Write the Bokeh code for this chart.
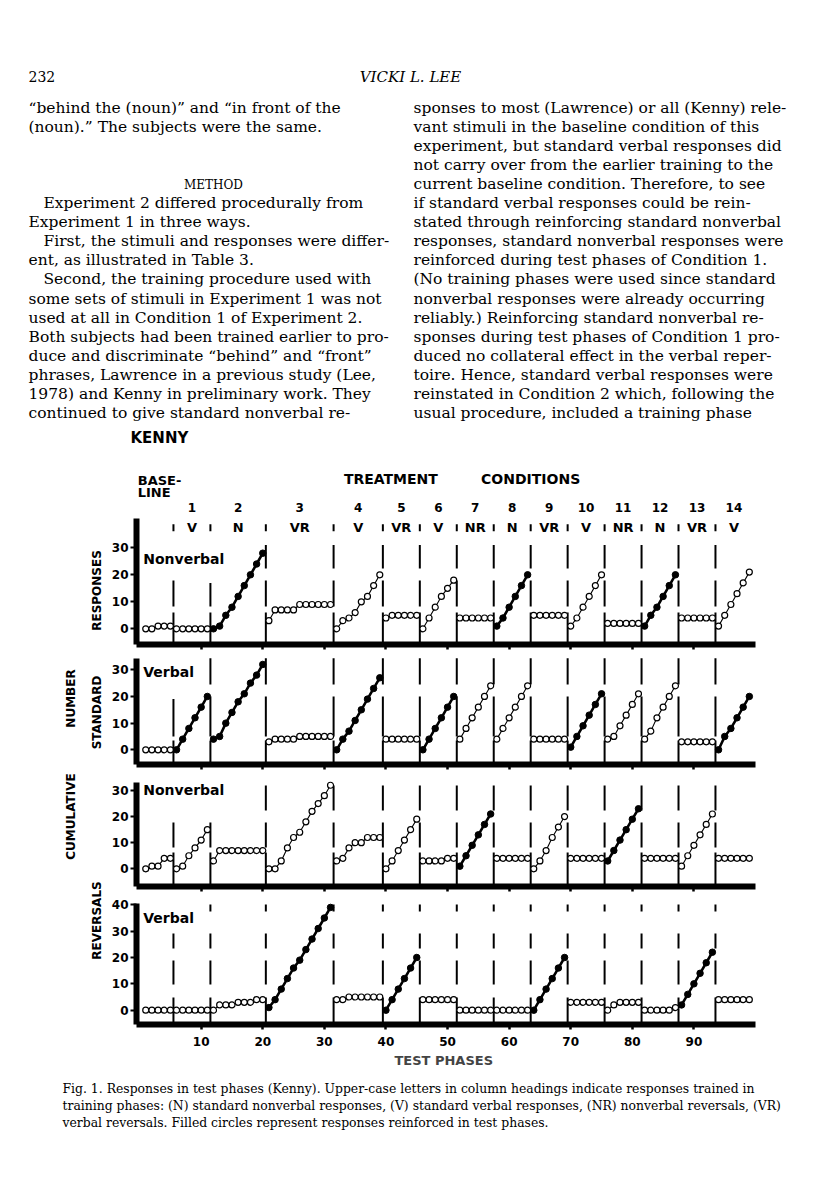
import numpy as np
from bokeh.plotting import figure
from bokeh.models import Range1d, ColumnDataSource, FixedTicker
from bokeh.layouts import column, row
from bokeh.embed import file_html
from bokeh.resources import INLINE
from bokeh.core.properties import value

# ---------------- data ----------------
# number of test phases in the baseline and in treatment conditions 1-14
phase_counts = [5, 6, 9, 11, 8, 6, 6, 6, 6, 6, 6, 6, 6, 6, 6]
condition_numbers = ["1", "2", "3", "4", "5", "6", "7", "8", "9", "10", "11", "12", "13", "14"]
trained_responses = ["V", "N", "VR", "V", "VR", "V", "NR", "N", "VR", "V", "NR", "N", "VR", "V"]
x_ticks = [10, 20, 30, 40, 50, 60, 70, 80, 90]
y_ticks_30 = [0, 10, 20, 30]
y_ticks_40 = [0, 10, 20, 30, 40]

nonverbal_standard = [
    0, 0, 1, 1, 1,
    0, 0, 0, 0, 0, 0,
    0, 1, 5, 8, 12, 16, 20, 24, 28,
    3, 7, 7, 7, 7, 9, 9, 9, 9, 9, 9,
    0, 3, 4, 6, 10, 12, 16, 20,
    4, 5, 5, 5, 5, 5,
    0, 4, 8, 12, 15, 18,
    4, 4, 4, 4, 4, 4,
    1, 4, 8, 12, 16, 20,
    5, 5, 5, 5, 5, 5,
    1, 4, 8, 12, 16, 20,
    2, 2, 2, 2, 2, 2,
    1, 5, 8, 12, 16, 20,
    4, 4, 4, 4, 4, 4,
    1, 5, 9, 13, 17, 21,
]
verbal_standard = [
    0, 0, 0, 0, 0,
    0, 4, 8, 12, 16, 20,
    4, 5, 10, 14, 18, 21, 25, 28, 32,
    3, 4, 4, 4, 4, 5, 5, 5, 5, 5, 5,
    0, 4, 7, 11, 15, 19, 23, 27,
    4, 4, 4, 4, 4, 4,
    0, 4, 8, 12, 16, 20,
    4, 8, 12, 16, 20, 24,
    4, 8, 12, 16, 20, 24,
    4, 4, 4, 4, 4, 4,
    1, 5, 9, 13, 17, 21,
    4, 5, 9, 13, 17, 21,
    4, 7, 12, 16, 20, 24,
    3, 3, 3, 3, 3, 3,
    0, 5, 8, 12, 16, 20,
]
nonverbal_reversals = [
    0, 1, 1, 4, 4,
    0, 1, 5, 8, 11, 15,
    3, 7, 7, 7, 7, 7, 7, 7, 7,
    0, 0, 3, 8, 12, 14, 18, 22, 25, 28, 32,
    3, 4, 8, 10, 10, 12, 12, 12,
    0, 3, 7, 11, 15, 19,
    3, 3, 3, 3, 4, 4,
    1, 5, 9, 13, 17, 21,
    4, 4, 4, 4, 4, 4,
    0, 3, 7, 12, 16, 20,
    4, 4, 4, 4, 4, 4,
    3, 7, 11, 15, 19, 23,
    4, 4, 4, 4, 4, 4,
    1, 5, 9, 13, 17, 21,
    4, 4, 4, 4, 4, 4,
]
verbal_reversals = [
    0, 0, 0, 0, 0,
    0, 0, 0, 0, 0, 0,
    0, 2, 2, 2, 3, 3, 3, 4, 4,
    1, 4, 8, 12, 16, 19, 23, 27, 31, 35, 39,
    4, 4, 5, 5, 5, 5, 5, 5,
    0, 4, 8, 12, 16, 20,
    4, 4, 4, 4, 4, 4,
    0, 0, 0, 0, 0, 0,
    0, 0, 0, 0, 0, 0,
    0, 4, 8, 12, 16, 20,
    3, 3, 3, 3, 3, 3,
    0, 2, 3, 3, 3, 3,
    0, 0, 0, 0, 0, 1,
    2, 6, 10, 14, 18, 22,
    4, 4, 4, 4, 4, 4,
]
# conditions (0 = baseline) in which the responses were reinforced (filled circles)
reinforced_nonverbal_standard = [2, 8, 12]
reinforced_verbal_standard = [1, 2, 4, 6, 10, 14]
reinforced_nonverbal_reversals = [7, 11]
reinforced_verbal_reversals = [3, 5, 9, 13]

# ---------------- page text ----------------
left_lines_a = [
    "\u201cbehind the (noun)\u201d and \u201cin front of the",
    "(noun).\u201d The subjects were the same.",
]
left_lines_b = [
    "Experiment 2 differed procedurally from",
    "Experiment 1 in three ways.",
    "First, the stimuli and responses were differ-",
    "ent, as illustrated in Table 3.",
    "Second, the training procedure used with",
    "some sets of stimuli in Experiment 1 was not",
    "used at all in Condition 1 of Experiment 2.",
    "Both subjects had been trained earlier to pro-",
    "duce and discriminate \u201cbehind\u201d and \u201cfront\u201d",
    "phrases, Lawrence in a previous study (Lee,",
    "1978) and Kenny in preliminary work. They",
    "continued to give standard nonverbal re-",
]
left_b_indent = [1, 0, 1, 0, 1, 0, 0, 0, 0, 0, 0, 0]
right_lines = [
    "sponses to most (Lawrence) or all (Kenny) rele-",
    "vant stimuli in the baseline condition of this",
    "experiment, but standard verbal responses did",
    "not carry over from the earlier training to the",
    "current baseline condition. Therefore, to see",
    "if standard verbal responses could be rein-",
    "stated through reinforcing standard nonverbal",
    "responses, standard nonverbal responses were",
    "reinforced during test phases of Condition 1.",
    "(No training phases were used since standard",
    "nonverbal responses were already occurring",
    "reliably.) Reinforcing standard nonverbal re-",
    "sponses during test phases of Condition 1 pro-",
    "duced no collateral effect in the verbal reper-",
    "toire. Hence, standard verbal responses were",
    "reinstated in Condition 2 which, following the",
    "usual procedure, included a training phase",
]
caption_lines = [
    "Fig. 1. Responses in test phases (Kenny). Upper-case letters in column headings indicate responses trained in",
    "training phases: (N) standard nonverbal responses, (V) standard verbal responses, (NR) nonverbal reversals, (VR)",
    "verbal reversals. Filled circles represent responses reinforced in test phases.",
]

# ---------------- derived ----------------
phases = np.arange(1, sum(phase_counts) + 1)
cond_of_phase = np.repeat(np.arange(len(phase_counts)), phase_counts)
last_phase = np.cumsum(phase_counts)
bounds = last_phase[:-1] + 0.5
cond_starts = bounds
cond_ends = np.r_[bounds[1:], last_phase[-1] + 0.5]
cond_centers = (cond_starts + cond_ends) / 2

SANS = value("DejaVu Sans")
SERIF = value("DejaVu Serif")


def page_fig(width, height, x0, x1, y_bottom, y_top):
    f = figure(width=width, height=height, x_range=Range1d(x0, x1), y_range=Range1d(y_bottom, y_top),
               output_backend="svg", toolbar_location=None, x_axis_location=None, y_axis_location=None,
               min_border=0)
    f.outline_line_color = None
    f.grid.visible = False
    return f


def make_panel(vals, filled, y0, y1, height, axis_top, yticks, tops, dash, name, name_y, bottom_border, last=False):
    p = figure(width=700, height=height, x_range=Range1d(-0.5, 100), y_range=Range1d(y0, y1),
               output_backend="svg", toolbar_location=None,
               min_border_left=28, min_border_right=53, min_border_top=0, min_border_bottom=bottom_border)
    p.outline_line_color = None
    p.grid.visible = False
    ya = p.yaxis[0]
    ya.ticker = FixedTicker(ticks=yticks)
    ya.bounds = (y0, axis_top)
    ya.axis_line_width = 6
    ya.major_tick_out = 6
    ya.major_tick_in = 0
    ya.major_tick_line_width = 2
    ya.minor_tick_line_color = None
    ya.major_label_text_font = "DejaVu Sans"
    ya.major_label_text_font_style = "bold"
    ya.major_label_text_font_size = "12px"
    ya.major_label_text_color = "black"
    ya.major_label_standoff = 2
    xa = p.xaxis[0]
    xa.ticker = FixedTicker(ticks=x_ticks)
    xa.axis_line_width = 6
    xa.major_tick_out = 5
    xa.major_tick_in = 0
    xa.major_tick_line_width = 2.5
    xa.minor_tick_line_color = None
    if last:
        xa.major_label_text_font = "DejaVu Sans"
        xa.major_label_text_font_style = "bold"
        xa.major_label_text_font_size = "12px"
        xa.major_label_text_color = "black"
        xa.major_label_standoff = 7
        xa.axis_label = "TEST  PHASES"
        xa.axis_label_text_font = "DejaVu Sans"
        xa.axis_label_text_font_style = "bold"
        xa.axis_label_text_font_size = "13px"
        xa.axis_label_standoff = 4
    else:
        xa.major_label_text_font_size = "1px"
        xa.major_label_text_color = None
        xa.major_label_standoff = 0

    # condition boundaries (broken vertical lines)
    p.segment(x0=bounds, y0=[y0] * len(bounds), x1=bounds, y1=tops,
              line_width=2, line_color="black", line_dash=dash)

    v = np.array(vals, dtype=float)
    xs, ys, lw = [], [], []
    for k in range(len(phase_counts)):
        m = cond_of_phase == k
        xs.append(phases[m].tolist())
        ys.append(v[m].tolist())
        lw.append(2.6 if k in filled else 1.1)
    p.multi_line(xs="xs", ys="ys", line_width="lw", line_color="black",
                 source=ColumnDataSource(dict(xs=xs, ys=ys, lw=lw)))
    is_f = np.isin(cond_of_phase, filled)
    p.scatter(phases[~is_f], v[~is_f], marker="circle", size=6, fill_color="white",
              line_color="black", line_width=1.2)
    p.scatter(phases[is_f], v[is_f], marker="circle", size=6.5, fill_color="black",
              line_color="black", line_width=1)
    p.text(x=[0.6], y=[name_y], text=[name], text_font=SANS, text_font_style="bold",
           text_font_size="14px", text_baseline="middle", text_align="left", text_color="black")
    return p


p1 = make_panel(nonverbal_standard, reinforced_nonverbal_standard, -5.81, 61.59, 194, 40.9, y_ticks_30,
                [18, 17] + [31] * 12, "32 6 26 12 24 60", "Nonverbal", 26, 12)
p2 = make_panel(verbal_standard, reinforced_verbal_standard, -5.51, 34.98, 120, 34.3, y_ticks_30,
                [19] + [34.3] * 13, "24 4 40 12 28 60", "Verbal", 29, 12)
p3 = make_panel(nonverbal_reversals, reinforced_nonverbal_reversals, -6.78, 35.36, 122, 33.1, y_ticks_30,
                [18.5, 18.5] + [32] * 12, "34 5 25 12 25 60", "Nonverbal", 30, 12)
p4 = make_panel(verbal_reversals, reinforced_verbal_reversals, -5.43, 42.39, 176, 40.6, y_ticks_40,
                [29.6] + [41] * 13, "27 13 24 12 15 22 7 60", "Verbal", 35, 50, last=True)

# column headings on the top panel
p1.text(x=cond_centers, y=[45] * len(cond_centers), text=condition_numbers, text_font=SANS,
        text_font_style="bold", text_font_size="12px", text_align="center", text_baseline="middle")
p1.text(x=cond_centers, y=[37.4] * len(cond_centers), text=trained_responses, text_font=SANS,
        text_font_style="bold", text_font_size="13px", text_align="center", text_baseline="middle")
p1.segment(x0=bounds, y0=[36.1] * len(bounds), x1=bounds, y1=[38.7] * len(bounds),
           line_width=2, line_color="black")
p1.text(x=[-0.3, -0.3], y=[54.8, 50.3], text=["BASE-", "LINE"], text_font=SANS, text_font_style="bold",
        text_font_size="13px", text_align="left", text_baseline="middle")
p1.text(x=[40.8, 63.5], y=[55.3, 55.3], text=["TREATMENT", "CONDITIONS"], text_font=SANS,
        text_font_style="bold", text_font_size="14px", text_align="center", text_baseline="middle")

# left rotated labels (window pixel coordinates)
lab = page_fig(108, 612, 0, 108, 1074, 462)
lab.text(x=[70, 70, 96, 96, 96], y=[816, 698, 920, 712, 590],
         text=["CUMULATIVE", "NUMBER", "REVERSALS", "STANDARD", "RESPONSES"],
         angle=np.pi / 2, text_font=SANS, text_font_style="bold", text_font_size="12px",
         text_align="center", text_baseline="middle")

# page text above the figure
top = page_fig(808, 462, 0, 808, 462, 0)
top.text(x=[28], y=[76], text=["232"], text_font=SERIF, text_font_size="14px", text_baseline="middle")
top.text(x=[410], y=[76], text=["VICKI L. LEE"], text_font=SERIF, text_font_style="italic",
         text_font_size="15px", text_align="center", text_baseline="middle")
pitch = 19.1
top.text(x=[28] * len(left_lines_a), y=[107 + pitch * i for i in range(len(left_lines_a))],
         text=left_lines_a, text_font=SERIF, text_font_size="15.5px", text_baseline="middle")
top.text(x=[213], y=[184], text=["METHOD"], text_font=SERIF, text_font_size="12px",
         text_align="center", text_baseline="middle")
top.text(x=[28 + 15 * d for d in left_b_indent], y=[107 + pitch * (5 + i) for i in range(len(left_lines_b))],
         text=left_lines_b, text_font=SERIF, text_font_size="15.5px", text_baseline="middle")
top.text(x=[413] * len(right_lines), y=[107 + pitch * i for i in range(len(right_lines))],
         text=right_lines, text_font=SERIF, text_font_size="15.5px", text_baseline="middle")
top.text(x=[130], y=[437], text=["KENNY"], text_font=SANS, text_font_style="bold", text_font_size="15px",
         text_baseline="middle")

# caption below the figure
cap = page_fig(808, 118, 0, 808, 1192, 1074)
cap.text(x=[62] * 3, y=[1088, 1105, 1122], text=caption_lines, text_font=SERIF, text_font_size="12.4px",
         text_baseline="middle")

layout = column(top, row(lab, column(p1, p2, p3, p4)), cap)
open("out.html", "w").write(file_html(layout, INLINE))
